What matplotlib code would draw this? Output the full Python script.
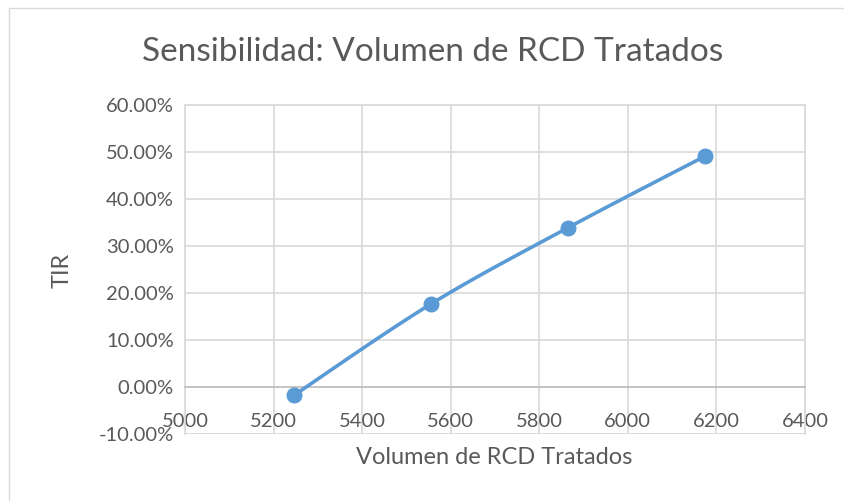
import numpy as np
import matplotlib
matplotlib.use("Agg")
import matplotlib.pyplot as plt
from matplotlib.ticker import FuncFormatter, MultipleLocator
from matplotlib.patches import Rectangle

# data
volumen = [5247, 5556, 5865, 6174]
tir = [-0.017, 0.177, 0.339, 0.491]

title = 'Sensibilidad: Volumen de RCD Tratados'
xlabel = 'Volumen de RCD Tratados'
ylabel = 'TIR'

blue = '#5B9BD5'
text_col = '#595959'
grid_col = '#D9D9D9'

plt.rcParams['font.family'] = ['Lato', 'DejaVu Sans']


def smooth(xs, ys, n=30):
    '''Excel-like smoothed line (Catmull-Rom through the points)'''
    px = [xs[0]] + list(xs) + [xs[-1]]
    py = [ys[0]] + list(ys) + [ys[-1]]
    outx, outy = [], []
    for i in range(1, len(px) - 2):
        t = np.linspace(0, 1, n)
        for p, out in ((px, outx), (py, outy)):
            p0, p1, p2, p3 = p[i - 1], p[i], p[i + 1], p[i + 2]
            out.extend(0.5 * ((2 * p1) + (-p0 + p2) * t
                              + (2 * p0 - 5 * p1 + 4 * p2 - p3) * t ** 2
                              + (-p0 + 3 * p1 - 3 * p2 + p3) * t ** 3))
    return outx, outy


fig = plt.figure(figsize=(8.44, 5.01), dpi=100)
fig.patches.append(Rectangle((9 / 844, -0.1), 1.2, 1 - 8 / 501 + 0.1,
                             transform=fig.transFigure, fill=False,
                             edgecolor='#D9D9D9', linewidth=1))
ax = fig.add_axes([185 / 844, 1 - 434 / 501, 620 / 844, 329 / 501])

sx, sy = smooth(volumen, tir)
ax.plot(sx, sy, color=blue, linewidth=2.6, solid_capstyle='round', zorder=3)
ax.plot(volumen, tir, 'o', color=blue, markersize=10.5, zorder=4)

ax.set_xlim(5000, 6400)
ax.set_ylim(-0.10, 0.60)
ax.xaxis.set_major_locator(MultipleLocator(200))
ax.yaxis.set_major_locator(MultipleLocator(0.10))
ax.yaxis.set_major_formatter(FuncFormatter(lambda v, p: f'{v * 100:.2f}%'))

ax.grid(True, color=grid_col, linewidth=1.2)
ax.set_axisbelow(True)
for s in ['top', 'right', 'left']:
    ax.spines[s].set_color(grid_col)
    ax.spines[s].set_linewidth(1.2)
ax.spines['bottom'].set_position(('data', 0))
ax.spines['bottom'].set_color('#BFBFBF')
ax.spines['bottom'].set_linewidth(1.2)
ax.axhline(-0.10, color=grid_col, linewidth=1.2, zorder=0)
ax.tick_params(length=0, labelsize=14.5, labelcolor=text_col)
ax.tick_params(axis='x', pad=19)
ax.tick_params(axis='y', pad=8)

fig.text(0.512, 1 - 52 / 501, title, ha='center', va='center',
         fontsize=24, color=text_col)
fig.text(494 / 844, 1 - 457 / 501, xlabel, ha='center', va='center',
         fontsize=17, color=text_col)
fig.text(62 / 844, 1 - 270 / 501, ylabel, ha='center', va='center',
         rotation=90, fontsize=17, color=text_col)

fig.savefig('out.png', dpi=100, facecolor='white')
